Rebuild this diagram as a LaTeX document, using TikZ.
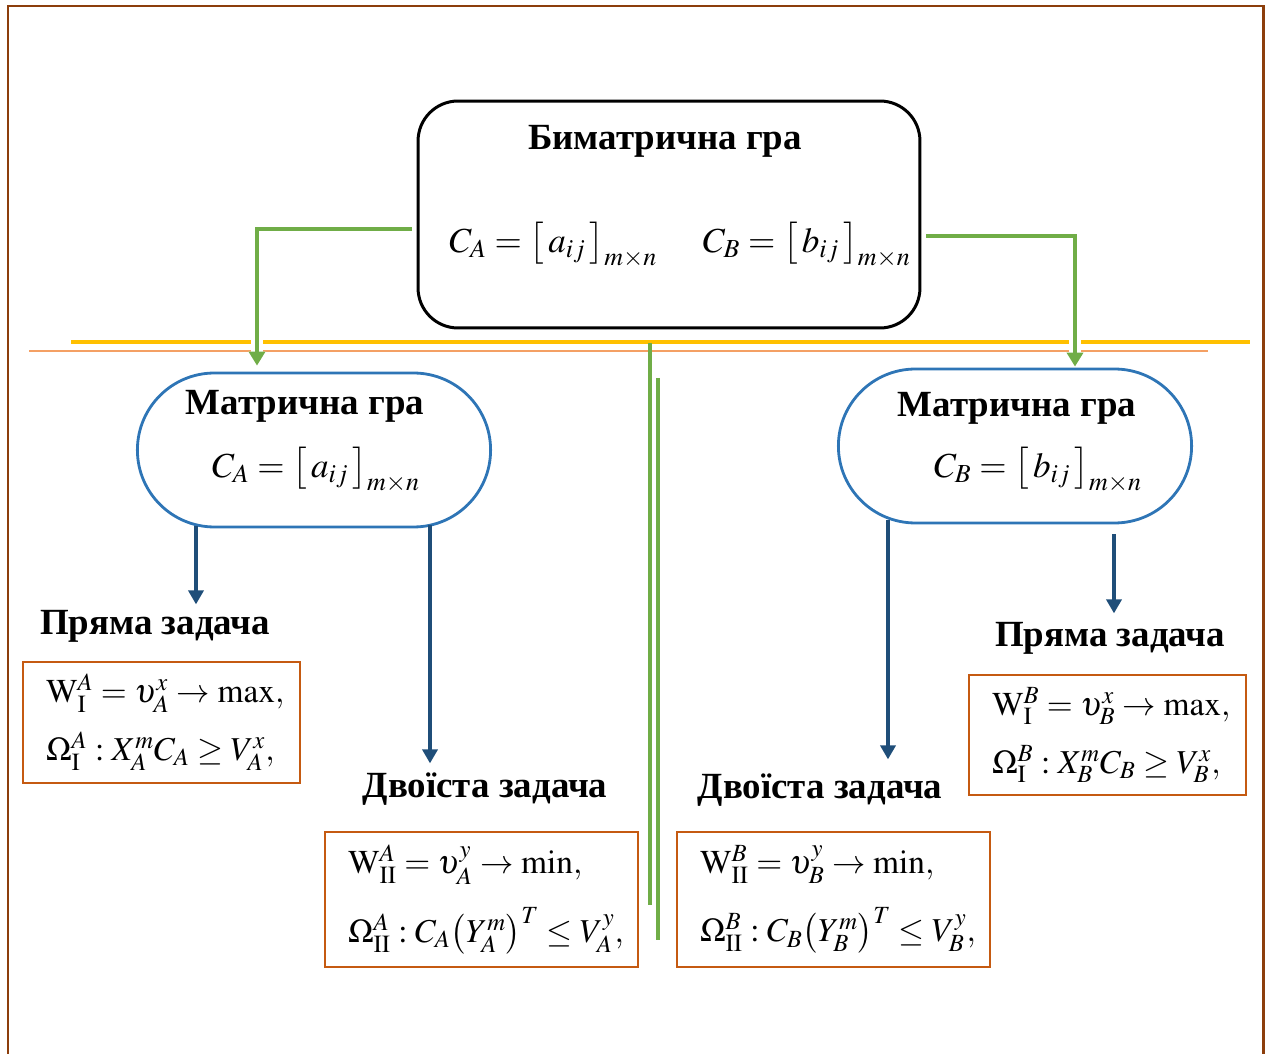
\documentclass[tikz,border=0pt]{standalone}
\usepackage{mathptmx}
\usepackage{fontspec}
\setmainfont{Liberation Serif}
\usetikzlibrary{arrows.meta,positioning,shapes.misc,calc,backgrounds}
\definecolor{bark}{RGB}{140,62,12}
\definecolor{grass}{RGB}{112,173,71}
\definecolor{amber}{RGB}{255,192,0}
\definecolor{peach}{RGB}{244,160,100}
\definecolor{sky}{RGB}{46,117,182}
\definecolor{deepblue}{RGB}{31,78,121}
\definecolor{rust}{RGB}{197,90,17}
\tikzset{
  headtext/.style={font=\fontsize{21}{25}\selectfont\bfseries},
  mathtext/.style={font=\fontsize{20}{24}\selectfont},
  topbox/.style={draw,rounded corners=0.8cm,line width=1.7pt,minimum width=10.04cm,minimum height=4.54cm},
  ovalbox/.style={rounded rectangle,draw=sky,line width=1.6pt,minimum width=7.3cm,minimum height=3.08cm},
  taskbox/.style={draw=rust,line width=1.5pt,align=left,inner xsep=0.46cm,inner ysep=0pt,font=\fontsize{19}{33}\selectfont},
  gconn/.style={grass,line width=2.3pt,-{Triangle[width=0.32cm,length=0.28cm]},preaction={draw=white,line width=7pt}},
  darrow/.style={deepblue,line width=2pt,-{Triangle[width=0.3cm,length=0.28cm]}}
}

\begin{document}
\begin{tikzpicture}[x=0.02cm,y=-0.02cm]
    \useasboundingbox (0,0) rectangle (1269,1054);
    \draw[bark,line width=1.7pt] (8,1054) -- (8,6) -- (1263,6) -- (1263,1054);

    \node[topbox] (top) at (669,214.5) {};
    \node[headtext] (toptitle) at (665,141) {Биматрична гра};
    \node[mathtext] (topform) at (680,245) {$C_{A}=\bigl[\,a_{ij}\,\bigr]_{m\times n}\hspace{26pt}C_{B}=\bigl[\,b_{ij}\,\bigr]_{m\times n}$};

    \node[ovalbox] (lov) at (314,450) {};
    \node[headtext] (lovtitle) at (305,406) {Матрична гра};
    \node[mathtext] (lovform) at (316,470) {$C_{A}=\bigl[\,a_{ij}\,\bigr]_{m\times n}$};
    \node[ovalbox] (rov) at (1015,446) {};
    \node[headtext] (rovtitle) at (1017,408) {Матрична гра};
    \node[mathtext] (rovform) at (1038,470) {$C_{B}=\bigl[\,b_{ij}\,\bigr]_{m\times n}$};

    \node[headtext] (lprim) at (155,626) {Пряма задача};
    \node[headtext] (ldual) at (485,789) {Двоїста задача};
    \node[headtext] (rdual) at (820,790) {Двоїста задача};
    \node[headtext] (rprim) at (1110,638) {Пряма задача};

    \node[taskbox,text width=4.62cm,minimum height=2.42cm] (lprimbox) at (161.5,722.5)
      {\mbox{$\mathrm{W}_{\mathrm{I}}^{A}=\upsilon_{A}^{x}\rightarrow\max,$}\\
       \mbox{$\Omega_{\mathrm{I}}^{A}:X_{A}^{m}C_{A}\geq V_{A}^{x},$}};
    \node[taskbox,text width=5.34cm,minimum height=2.7cm] (ldualbox) at (481.5,899.5)
      {\mbox{$\mathrm{W}_{\mathrm{II}}^{A}=\upsilon_{A}^{y}\rightarrow\min,$}\\[6pt]
       \mbox{$\Omega_{\mathrm{II}}^{A}:C_{A}\bigl(Y_{A}^{m}\bigr)^{T}\leq V_{A}^{y},$}};
    \node[taskbox,text width=5.34cm,minimum height=2.7cm] (rdualbox) at (833.5,899.5)
      {\mbox{$\mathrm{W}_{\mathrm{II}}^{B}=\upsilon_{B}^{y}\rightarrow\min,$}\\[6pt]
       \mbox{$\Omega_{\mathrm{II}}^{B}:C_{B}\bigl(Y_{B}^{m}\bigr)^{T}\leq V_{B}^{y},$}};
    \node[taskbox,text width=4.62cm,minimum height=2.4cm] (rprimbox) at (1107.5,735)
      {\mbox{$\mathrm{W}_{\mathrm{I}}^{B}=\upsilon_{B}^{x}\rightarrow\max,$}\\
       \mbox{$\Omega_{\mathrm{I}}^{B}:X_{B}^{m}C_{B}\geq V_{B}^{x},$}};

    \begin{scope}[on background layer]
      \draw[amber,line width=2.3pt] (71,342) -- (1250,342);
      \draw[peach,line width=0.8pt] (29,351) -- (1208,351);
      \draw[gconn] ($(top.west)+(-5,14.5)$) -| ($(lov.north)+(-57,-6)$);
      \draw[gconn] ($(top.east)+(5,21.5)$) -| ($(rov.north)+(60,-1)$);
    \end{scope}
    \draw[grass,line width=2.1pt] (650,343) -- (650,905);
    \draw[grass,line width=2.1pt] (658,378) -- (658,940);

    \draw[darrow] ($(lov.south)+(-118,-2)$) -- ($(lov.south)+(-118,76)$);
    \draw[darrow] ($(lov.south)+(116,-3)$) -- ($(lov.south)+(116,235)$);
    \draw[darrow] ($(rov.south)+(-127,-4)$) -- ($(rov.south)+(-127,235)$);
    \draw[darrow] ($(rov.south)+(99,10)$) -- ($(rov.south)+(99,89)$);
\end{tikzpicture}
\end{document}
